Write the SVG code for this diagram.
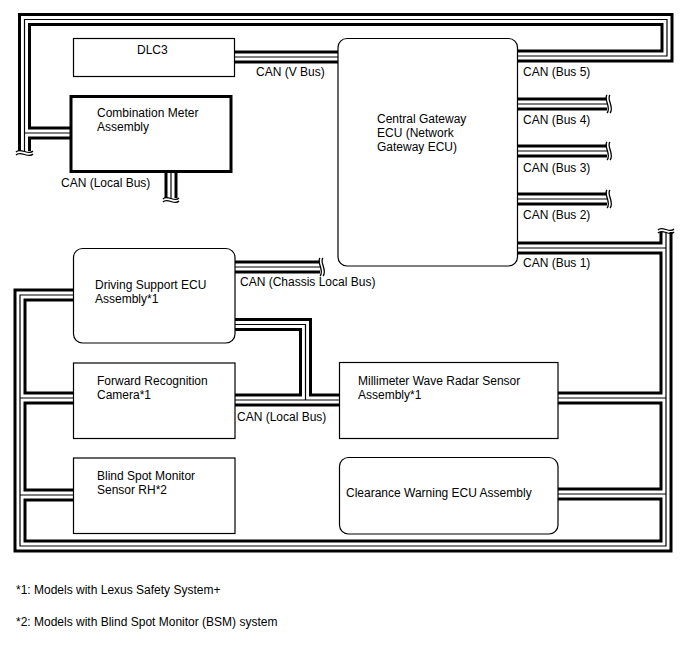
<svg xmlns="http://www.w3.org/2000/svg" xmlns:xlink="http://www.w3.org/1999/xlink" width="688" height="658" viewBox="0 0 688 658">
<style>
.bk{fill:none;stroke:#000;stroke-width:13}
.wh{fill:none;stroke:#fff;stroke-width:7}
.cl{fill:none;stroke:#000;stroke-width:1.2}
.brk{fill:none;stroke:#000;stroke-width:1.3}
.box{fill:#fff;stroke:#000;stroke-width:1.2}
.thick{fill:#fff;stroke:#000;stroke-width:3}
text{font-family:"Liberation Sans",Arial,sans-serif;font-size:12px;fill:#000}
</style>
<defs>
<path id="p-vbus" d="M232 57H340"/>
<path id="p-bus5" d="M515 56H667V19.5H24.5V151"/>
<path id="p-bus5m" d="M24.5 133H73"/>
<path id="p-mloc" d="M171 170V198"/>
<path id="p-bus4" d="M515 104H607"/>
<path id="p-bus3" d="M515 151H607"/>
<path id="p-bus2" d="M515 199H607"/>
<path id="p-bus1" d="M515 248H666"/>
<path id="p-loop" d="M666 232V546H20V295H75"/>
<path id="p-mwr" d="M666 398H556"/>
<path id="p-cw" d="M666 494H556"/>
<path id="p-cam" d="M20 398H75"/>
<path id="p-bsm" d="M20 495H75"/>
<path id="p-chas" d="M233 267H320"/>
<path id="p-loc1" d="M233 324.5H305.5V400"/>
<path id="p-loc2" d="M233 400H341"/>
<g id="tubes">
<use xlink:href="#p-vbus"/><use xlink:href="#p-bus5"/><use xlink:href="#p-bus5m"/><use xlink:href="#p-mloc"/>
<use xlink:href="#p-bus4"/><use xlink:href="#p-bus3"/><use xlink:href="#p-bus2"/><use xlink:href="#p-bus1"/>
<use xlink:href="#p-loop"/><use xlink:href="#p-mwr"/><use xlink:href="#p-cw"/><use xlink:href="#p-cam"/>
<use xlink:href="#p-bsm"/><use xlink:href="#p-chas"/><use xlink:href="#p-loc1"/><use xlink:href="#p-loc2"/>
</g>
</defs>
<g id="connectors">
<use xlink:href="#tubes" class="bk"/>
<use xlink:href="#tubes" class="wh"/>
<use xlink:href="#tubes" class="cl"/>
<g id="breaks" class="brk">
<path d="M16 152C20 147 29 156 33 151M16 155C20 150 29 159 33 154"/>
<path d="M163 199C167 194 175 203 179 198M163 202C167 197 175 206 179 201"/>
<path d="M658 233C662 228 670 237 674 232M658 230C662 225 670 234 674 229"/>
<path d="M607 95C603 99 612 108 607 113M610 95C606 99 615 108 610 113"/>
<path d="M607 142C603 146 612 155 607 160M610 142C606 146 615 155 610 160"/>
<path d="M607 190C603 194 612 203 607 208M610 190C606 194 615 203 610 208"/>
<path d="M320 258C316 262 325 271 320 276M323 258C319 262 328 271 323 276"/>
</g>
</g>
<g id="dlc3"><rect class="box" x="73.5" y="38.5" width="161" height="38"/><text x="137" y="54">DLC3</text></g>
<g id="meter"><rect class="thick" x="71" y="96.5" width="160" height="75"/><text x="97" y="117">Combination Meter</text><text x="97" y="131">Assembly</text></g>
<g id="cgw"><rect class="box" x="338" y="38.5" width="179.5" height="227.5" rx="9"/><text x="377" y="123">Central Gateway</text><text x="377" y="137">ECU (Network</text><text x="377" y="151">Gateway ECU)</text></g>
<g id="dsecu"><rect class="box" x="73.5" y="248.5" width="161.5" height="94.5" rx="9"/><text x="95" y="289">Driving Support ECU</text><text x="95" y="303">Assembly*1</text></g>
<g id="camera"><rect class="box" x="73.5" y="363" width="161.5" height="75.5"/><text x="97" y="385">Forward Recognition</text><text x="97" y="398.5">Camera*1</text></g>
<g id="bsm"><rect class="box" x="73.5" y="458" width="161.5" height="75.5"/><text x="97" y="480">Blind Spot Monitor</text><text x="97" y="493.5">Sensor RH*2</text></g>
<g id="mwr"><rect class="box" x="339.5" y="362.5" width="218.5" height="76"/><text x="358" y="385">Millimeter Wave Radar Sensor</text><text x="358" y="398.5">Assembly*1</text></g>
<g id="cwecu"><rect class="box" x="339.5" y="457.5" width="218.5" height="76.5" rx="9"/><text x="346" y="497">Clearance Warning ECU Assembly</text></g>
<g id="labels">
<text x="256" y="76">CAN (V Bus)</text>
<text x="61" y="187">CAN (Local Bus)</text>
<text x="523" y="76">CAN (Bus 5)</text>
<text x="523" y="124">CAN (Bus 4)</text>
<text x="523" y="172">CAN (Bus 3)</text>
<text x="523" y="219">CAN (Bus 2)</text>
<text x="523" y="267">CAN (Bus 1)</text>
<text x="240" y="286">CAN (Chassis Local Bus)</text>
<text x="237" y="421">CAN (Local Bus)</text>
<text x="16" y="594">*1: Models with Lexus Safety System+</text>
<text x="16" y="626">*2: Models with Blind Spot Monitor (BSM) system</text>
</g>
</svg>
